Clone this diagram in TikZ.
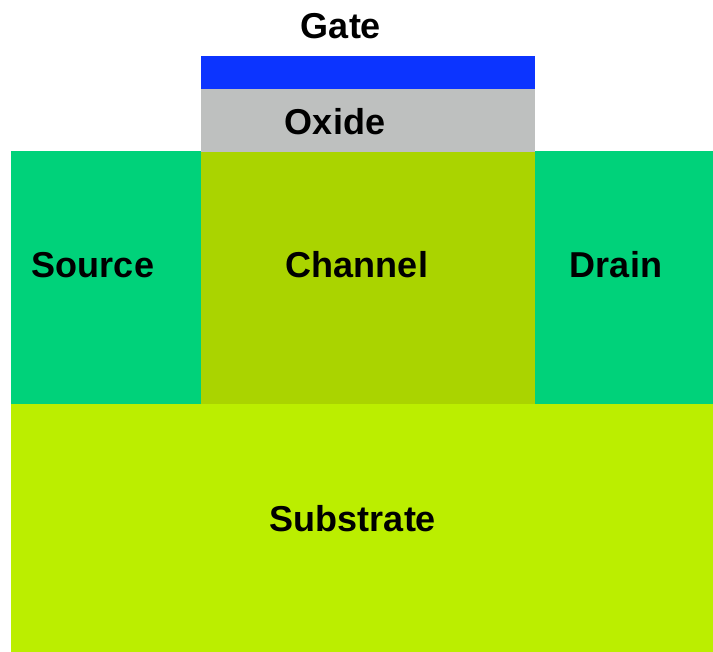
\documentclass[tikz,border=0pt]{standalone}
\usepackage{fontspec}
\setmainfont{Liberation Sans}
\usepackage{xcolor}
\definecolor{gateblue}{RGB}{12,52,255}
\definecolor{oxidegray}{RGB}{190,192,191}
\definecolor{dopedgreen}{RGB}{0,210,122}
\definecolor{channelgreen}{RGB}{170,212,0}
\definecolor{substrategreen}{RGB}{187,238,0}

\begin{document}
\begin{tikzpicture}[
    x=1pt, y=-1pt,
    label/.style={
        anchor=base,
        inner sep=0pt,
        font=\bfseries\fontsize{36}{40}\selectfont,
        text=black
    }
]
\useasboundingbox (0,0) rectangle (713,652);

% Regions
\fill[substrategreen] (11,404) rectangle (713,652);
\fill[dopedgreen] (11,151) rectangle (201,404);
\fill[dopedgreen] (535,151) rectangle (713,404);
\fill[channelgreen] (201,152) rectangle (535,404);
\fill[oxidegray] (201,89) rectangle (535,152);
\fill[gateblue] (201,56) rectangle (535,89);

% Labels
\node[label] (gate) at (341,39) {Gate};
\node[label] (oxide) at (335,135) {Oxide};
\node[label] (source) at (93,278) {Source};
\node[label] (channel) at (357,278) {Channel};
\node[label] (drain) at (616,278) {Drain};
\node[label] (substrate) at (353,531) {Substrate};

\end{tikzpicture}
\end{document}
